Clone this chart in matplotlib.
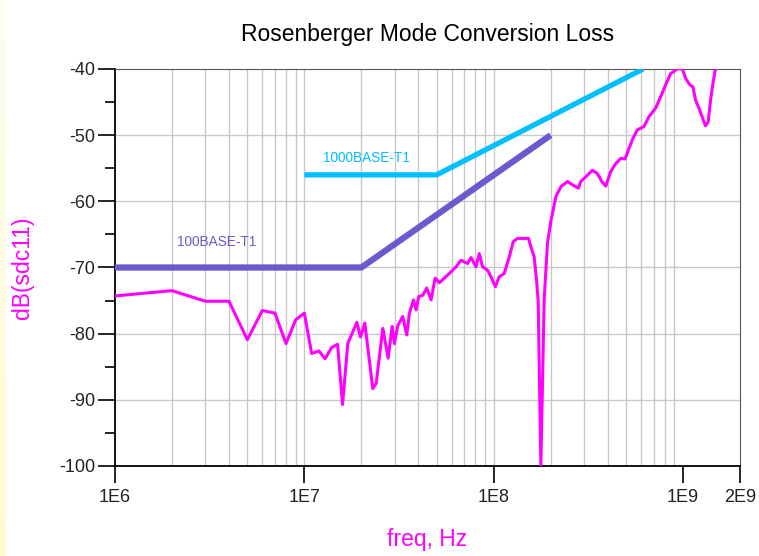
import numpy as np
import matplotlib.pyplot as plt
from matplotlib.colors import LinearSegmentedColormap
from matplotlib.ticker import FixedLocator, NullFormatter

plt.rcParams['font.family'] = ['Liberation Sans', 'DejaVu Sans']
plt.rcParams['axes.unicode_minus'] = False

# measured curve: freq [Hz], dB(sdc11)
freq = [1.0e6, 2.0e6, 3.0e6, 4.0e6, 5.0e6, 6.0e6, 7.0e6, 8.0e6, 9.0e6, 1.0e7,
        1.093e7, 1.194e7, 1.287e7, 1.393e7, 1.498e7, 1.592e7, 1.696e7, 1.894e7, 1.981e7, 2.087e7,
        2.299e7, 2.397e7, 2.597e7, 2.772e7, 2.910e7, 2.992e7, 3.114e7, 3.310e7, 3.475e7, 3.591e7,
        3.770e7, 3.895e7, 4.019e7, 4.220e7, 4.430e7, 4.673e7, 4.906e7, 5.168e7, 5.833e7, 6.327e7,
        6.723e7, 7.284e7, 7.591e7, 8.066e7, 8.396e7, 8.739e7, 9.286e7, 9.678e7, 1.020e8, 1.070e8,
        1.137e8, 1.209e8, 1.269e8, 1.337e8, 1.450e8, 1.528e8, 1.573e8, 1.637e8, 1.684e8, 1.718e8,
        1.775e8, 1.848e8, 1.924e8, 2.005e8, 2.130e8, 2.263e8, 2.453e8, 2.606e8, 2.803e8, 2.885e8,
        3.066e8, 3.322e8, 3.529e8, 3.723e8, 3.908e8, 4.153e8, 4.412e8, 4.690e8, 4.940e8, 5.080e8,
        5.397e8, 5.735e8, 6.221e8, 6.609e8, 7.171e8, 7.618e8, 8.096e8, 8.603e8, 9.322e8, 9.903e8,
        1.032e9, 1.087e9, 1.128e9, 1.165e9, 1.213e9, 1.253e9, 1.315e9, 1.358e9, 1.398e9, 1.438e9,
        1.486e9, 1.530e9]
sdc11 = [-74.3, -73.5, -75.1, -75.1, -80.9, -76.5, -76.9, -81.5, -77.9, -76.9,
         -83.0, -82.6, -83.8, -82.1, -81.6, -90.7, -81.5, -78.3, -80.5, -78.4,
         -88.3, -87.5, -79.2, -83.7, -78.9, -81.5, -78.8, -77.4, -80.2, -76.9,
         -74.9, -76.4, -74.4, -74.2, -73.1, -74.9, -71.6, -72.3, -70.9, -69.9,
         -68.9, -69.4, -68.5, -69.9, -67.9, -69.9, -70.4, -71.4, -72.9, -71.4,
         -70.9, -68.4, -66.1, -65.6, -65.6, -65.6, -66.9, -68.4, -71.9, -75.0,
         -100.0, -74.9, -66.3, -63.0, -59.3, -57.8, -57.0, -57.5, -58.0, -57.0,
         -56.3, -55.3, -55.8, -57.0, -57.7, -55.5, -54.3, -53.5, -53.6, -52.7,
         -50.7, -49.2, -48.7, -47.2, -45.9, -44.2, -42.4, -40.7, -40.0, -39.9,
         -41.4, -42.4, -42.7, -44.7, -45.9, -47.0, -48.6, -48.0, -44.7, -42.2,
         -39.9, -37.0]

# limit masks
f_100 = [1e6, 2e7, 2e8]
db_100 = [-70, -70, -50]
f_1000 = [1e7, 5e7, 6.15e8]
db_1000 = [-56, -56, -40]

fig = plt.figure(figsize=(7.59, 5.56), dpi=100)
fig.patch.set_facecolor('white')

# pale yellow strip on the left edge
strip = fig.add_axes([0, 0, 6 / 759, 1])
grad = np.linspace(0, 1, 100).reshape(-1, 1)
strip.imshow(grad, aspect='auto', origin='lower',
             cmap=LinearSegmentedColormap.from_list('y', ['#fffbd0', '#fffdf2']))
strip.axis('off')

ax = fig.add_axes([115 / 759, 1 - 466 / 556, 625 / 759, 397 / 556])

ax.plot(f_100, db_100, color='#6a5acd', lw=4.5, solid_capstyle='butt', zorder=3)
ax.plot(f_1000, db_1000, color='#00bfff', lw=3.8, solid_capstyle='butt', zorder=3)
ax.plot(freq, sdc11, color='#ff00ff', lw=2.2, zorder=4)

ax.text(3.45e6, -66.15, '100BASE-T1', color='#6a5acd', fontsize=9.8,
        ha='center', va='center')
ax.text(2.14e7, -53.5, '1000BASE-T1', color='#00bfff', fontsize=9.8,
        ha='center', va='center')

ax.set_xscale('log')
ax.set_xlim(1e6, 2e9)
ax.set_ylim(-100, -40)

ax.xaxis.set_major_locator(FixedLocator([1e6, 1e7, 1e8, 1e9, 2e9]))
ax.set_xticklabels(['1E6', '1E7', '1E8', '1E9', '2E9'])
minors = [m * 10.0 ** e for e in range(6, 9) for m in range(2, 10)]
ax.xaxis.set_minor_locator(FixedLocator(minors))
ax.xaxis.set_minor_formatter(NullFormatter())
ax.set_yticks(np.arange(-100, -39, 10))
ax.set_yticks(np.arange(-95, -40, 10), minor=True)

for v in minors + [1e7, 1e8]:
    ax.axvline(v, color='#c8c8c8', lw=1, zorder=1)
for v in [-90, -80, -70, -60, -50]:
    ax.axhline(v, color='#c8c8c8', lw=1, zorder=1)

ax.tick_params(axis='both', which='major', direction='out', length=12.5, width=1.2,
               labelsize=13, colors='black', labelcolor='#222222')
ax.tick_params(axis='y', which='major', pad=1.5)
ax.tick_params(axis='x', which='major', pad=4)
ax.tick_params(axis='y', which='minor', direction='out', length=7, width=1.2)
ax.tick_params(axis='x', which='minor', length=0)

ax.spines['left'].set_linewidth(1.3)
ax.spines['bottom'].set_linewidth(1.3)
ax.spines['top'].set_color('#555555')
ax.spines['right'].set_color('#555555')

ax.set_title('Rosenberger Mode Conversion Loss', fontsize=16.5, pad=20)
ax.set_xlabel('freq, Hz', color='#ff00ff', fontsize=16.5)
ax.set_ylabel('dB(sdc11)', color='#ff00ff', fontsize=16.5)
ax.xaxis.set_label_coords(0.5, -0.155)
ax.yaxis.set_label_coords(-0.13, 0.5)

plt.savefig('out.png', dpi=100)
